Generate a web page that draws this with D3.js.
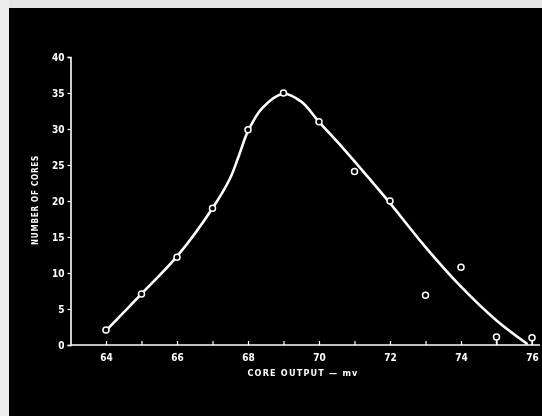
<!DOCTYPE html>
<html>
<head>
<meta charset="utf-8">
<script src="https://cdn.jsdelivr.net/npm/d3@7"></script>
<style>
  html, body { margin: 0; padding: 0; background: #000; }
  svg { display: block; }
</style>
</head>
<body>
<script>
// Measured distribution of core outputs
const outputs = [64, 65, 66, 67, 68, 69, 70, 71, 72, 73, 74, 75, 76];
const coreCounts = [2.1, 7.1, 12.2, 19.0, 29.9, 35.0, 31.0, 24.1, 20.0, 6.9, 10.8, 1.1, 1.0];

// Hand-faired smooth curve through the distribution
const curveX = [64, 65, 66, 67, 67.5, 67.75, 68, 68.4, 69, 69.5, 70, 70.7, 71.4, 72, 73, 74, 75, 75.85];
const curveY = [2.0, 7.1, 12.3, 19.0, 23.2, 26.4, 29.7, 32.9, 34.9, 33.8, 31.0, 27.2, 23.2, 19.7, 13.6, 8.1, 3.4, 0.2];

const xTicks = [64, 65, 66, 67, 68, 69, 70, 71, 72, 73, 74, 75, 76];
const xTickLabels = ["64", "", "66", "", "68", "", "70", "", "72", "", "74", "", "76"];
const yTicks = [0, 5, 10, 15, 20, 25, 30, 35, 40];

const W = 542, H = 416;
const svg = d3.select("body").append("svg").attr("width", W).attr("height", H);

// Plate background with light border strips
svg.append("rect").attr("width", W).attr("height", H).attr("fill", "#000");
svg.append("rect").attr("x", 0).attr("y", 0).attr("width", W).attr("height", 8).attr("fill", "#e6e6e6");
svg.append("rect").attr("x", 0).attr("y", 0).attr("width", 9).attr("height", H).attr("fill", "#ededed");

const defs = svg.append("defs");
defs.append("filter").attr("id", "soft")
  .append("feGaussianBlur").attr("stdDeviation", 0.45);

const g = svg.append("g").attr("filter", "url(#soft)");

const x = d3.scaleLinear().domain([63, 76]).range([70.5, 532]);
const y = d3.scaleLinear().domain([0, 40]).range([345, 57]);

const fontFam = "'DejaVu Sans Condensed', 'DejaVu Sans', sans-serif";

// X axis (extends slightly past the last tick)
const xAxis = d3.axisBottom(x)
  .tickValues(xTicks)
  .tickSize(-4)
  .tickPadding(9)
  .tickFormat((d, i) => xTickLabels[i]);
const gx = g.append("g").attr("transform", `translate(0,${y(0)})`).call(xAxis);
gx.select(".domain").remove();
g.append("line")
  .attr("x1", x(63)).attr("x2", 540)
  .attr("y1", y(0)).attr("y2", y(0))
  .attr("stroke", "#fff").attr("stroke-width", 1.6);

// Y axis
const yAxis = d3.axisLeft(y).tickValues(yTicks).tickSize(3).tickPadding(3);
const gy = g.append("g").attr("transform", `translate(${x(63)},0)`).call(yAxis);
gy.select(".domain").attr("stroke", "#fff").attr("stroke-width", 1.6);

[gx, gy].forEach(a => {
  a.selectAll(".tick line").attr("stroke", "#fff").attr("stroke-width", 1.2);
  a.selectAll(".tick text")
    .attr("fill", "#fff")
    .attr("font-family", fontFam)
    .attr("font-weight", "bold")
    .attr("font-size", 10);
});

// Axis titles
g.append("text")
  .attr("x", 303).attr("y", 376)
  .attr("text-anchor", "middle")
  .attr("fill", "#fff")
  .attr("font-family", fontFam)
  .attr("font-weight", "bold")
  .attr("font-size", 9)
  .attr("letter-spacing", 1.2)
  .text("CORE OUTPUT — mv");

g.append("text")
  .attr("transform", "translate(38,200) rotate(-90)")
  .attr("text-anchor", "middle")
  .attr("fill", "#fff")
  .attr("font-family", fontFam)
  .attr("font-weight", "bold")
  .attr("font-size", 8)
  .attr("letter-spacing", 0.8)
  .text("NUMBER OF CORES");

// Smooth curve
const curvePts = curveX.map((d, i) => [d, curveY[i]]);
g.append("path")
  .datum(curvePts)
  .attr("fill", "none")
  .attr("stroke", "#fff")
  .attr("stroke-width", 2.6)
  .attr("stroke-linecap", "round")
  .attr("d", d3.line().x(d => x(d[0])).y(d => y(d[1])).curve(d3.curveCatmullRom.alpha(0.5)));

// Data points
const pts = outputs.map((d, i) => ({ x: d, v: coreCounts[i] }));

// Short stems down to the axis for the near-zero counts
g.selectAll("line.stem")
  .data(pts.filter(d => d.v < 1.5))
  .join("line")
  .attr("class", "stem")
  .attr("x1", d => x(d.x)).attr("x2", d => x(d.x))
  .attr("y1", d => y(d.v) + 3).attr("y2", y(0))
  .attr("stroke", "#fff").attr("stroke-width", 1.4);

g.selectAll("circle.pt")
  .data(pts)
  .join("circle")
  .attr("class", "pt")
  .attr("cx", d => x(d.x))
  .attr("cy", d => y(d.v))
  .attr("r", 3)
  .attr("fill", "#000")
  .attr("stroke", "#fff")
  .attr("stroke-width", 1.5);
</script>
</body>
</html>
